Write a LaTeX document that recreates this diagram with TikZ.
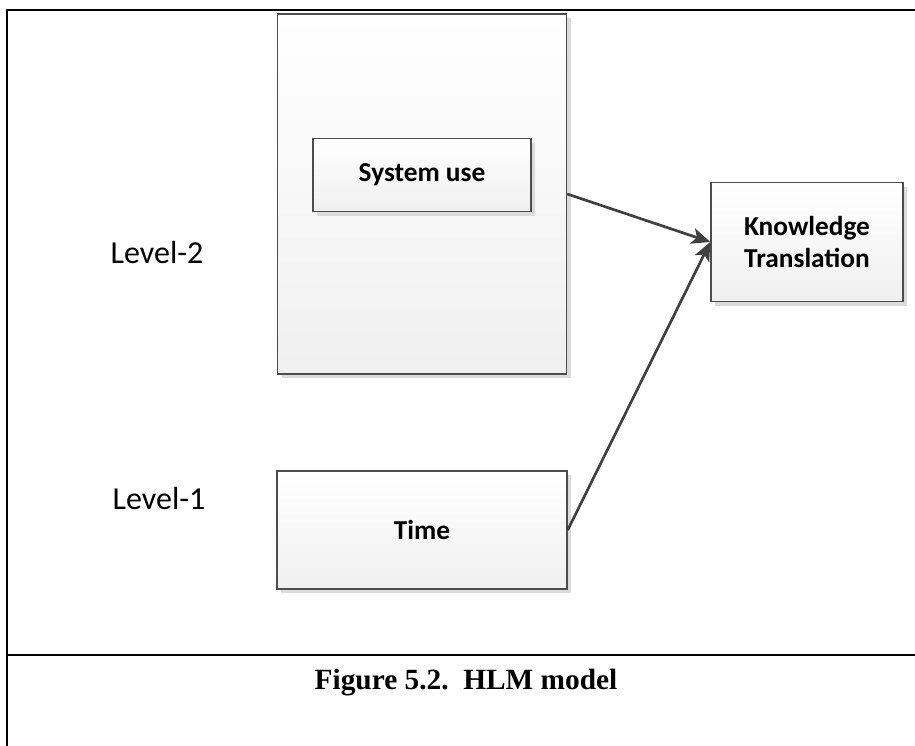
\documentclass[tikz,border=0pt]{standalone}
\usepackage{fontspec}
\setmainfont{Carlito}
\newfontfamily\captionfont{Liberation Serif}
\usetikzlibrary{arrows.meta,shadows}

\tikzset{
  box/.style={draw=black!70, line width=1.1pt, inner sep=0pt,
    top color=white, bottom color=black!6,
    drop shadow={shadow xshift=3pt, shadow yshift=-3pt, fill=black!14, opacity=1}},
  boxtext/.style={font=\bfseries\fontsize{20.5}{24}\selectfont, align=center},
  leveltext/.style={font=\fontsize{24}{28}\selectfont},
  link/.style={draw=black!75, line width=2pt,
    -{Stealth[length=14pt, width=12pt, inset=3.5pt]}},
  frame/.style={line width=1.8pt, black}
}

\begin{document}
\begin{tikzpicture}[x=0.75pt, y=-0.75pt]
  \useasboundingbox (0,0) rectangle (915,746);

  % page frame and caption rule
  \coordinate (ftl) at (7,10);
  \coordinate (ftr) at (915,10);
  \coordinate (fbl) at (7,746);
  \coordinate (rl) at (7,655);
  \coordinate (rr) at (915,655);
  \draw[frame] (fbl) -- (ftl) -- (ftr);
  \draw[frame] (rl) -- (rr);

  % level-2 group box and its inner box
  \node[box, minimum width=216.75pt, minimum height=270pt] (bigbox) at (422,194) {};
  \node[box, boxtext, minimum width=163.5pt, minimum height=54.75pt] (sysuse) at (422,175) {System use};

  % level-1 box
  \node[box, boxtext, minimum width=217.5pt, minimum height=88.5pt] (time) at (422,530) {Time};

  % outcome box
  \node[box, boxtext, minimum width=144pt, minimum height=89.25pt] (kt) at (807,242)
    {Knowledge\\Translation};

  % level labels
  \node[leveltext] (lvl2) at (157,252) {Level-2};
  \node[leveltext] (lvl1) at (159,498) {Level-1};

  % connectors
  \draw[link] (bigbox.east) -- (kt.west);
  \draw[link] (time.east) -- (kt.west);

  % caption
  \node[font=\captionfont\bfseries\fontsize{22}{25}\selectfont] (cap) at (466,683)
    {Figure 5.2.\ \ HLM model};
\end{tikzpicture}
\end{document}
